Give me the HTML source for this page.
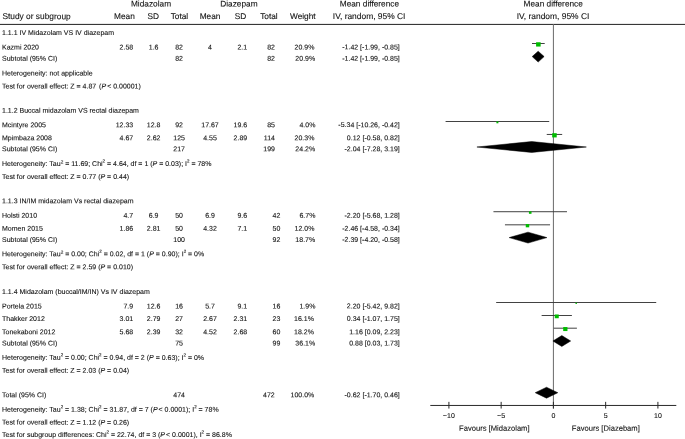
<!DOCTYPE html>
<html><head><meta charset="utf-8"><title>Forest plot</title>
<style>
html,body{margin:0;padding:0;background:#fff;}
body{width:685px;height:439px;overflow:hidden;}
svg{display:block;font-family:"Liberation Sans",sans-serif;fill:#111;}
.t{stroke:#111;stroke-width:0.1px;}
text{white-space:pre;}
</style></head><body>
<svg width="685" height="439" viewBox="0 0 685 439" style="filter:blur(0.35px)">
<rect width="685" height="439" fill="#fff"/>
<g>
<rect x="0" y="23.9" width="685" height="1" fill="#222"/>
<rect x="552.90" y="24" width="1" height="384.5" fill="#6a6a6a"/>
<rect x="430.3" y="404.95" width="246" height="1" fill="#2a2a2a"/>
<rect x="448.40" y="401.84999999999997" width="1" height="6.7" fill="#2a2a2a"/>
<rect x="500.65" y="401.84999999999997" width="1" height="6.7" fill="#2a2a2a"/>
<rect x="552.90" y="401.84999999999997" width="1" height="6.7" fill="#2a2a2a"/>
<rect x="605.15" y="401.84999999999997" width="1" height="6.7" fill="#2a2a2a"/>
<rect x="657.40" y="401.84999999999997" width="1" height="6.7" fill="#2a2a2a"/>
<rect x="532.00" y="43.05" width="12.71" height="0.95" fill="#383838"/>
<rect x="536.08" y="42.25" width="4.57" height="4.30" fill="#00bc00"/>
<polygon points="532.20,56.60 538.16,51.15 544.12,56.60 538.16,62.05" fill="#000" stroke="#000" stroke-width="0.5"/>
<rect x="445.58" y="121.00" width="103.63" height="0.95" fill="#383838"/>
<rect x="496.40" y="121.41" width="2.00" height="1.88" fill="#00bc00"/>
<rect x="546.74" y="133.95" width="15.43" height="0.95" fill="#383838"/>
<rect x="552.20" y="133.18" width="4.51" height="4.24" fill="#00bc00"/>
<polygon points="476.92,147.00 531.68,141.55 586.34,147.00 531.68,152.45" fill="#000" stroke="#000" stroke-width="0.5"/>
<rect x="493.44" y="211.25" width="73.53" height="0.95" fill="#383838"/>
<rect x="528.92" y="211.38" width="2.59" height="2.43" fill="#00bc00"/>
<rect x="504.94" y="224.35" width="45.11" height="0.95" fill="#383838"/>
<rect x="525.76" y="224.07" width="3.46" height="3.26" fill="#00bc00"/>
<polygon points="509.11,237.60 528.02,232.15 546.94,237.60 528.02,243.05" fill="#000" stroke="#000" stroke-width="0.5"/>
<rect x="496.16" y="302.00" width="160.06" height="0.95" fill="#383838"/>
<rect x="575.50" y="302.70" width="1.38" height="1.30" fill="#00bc00"/>
<rect x="541.62" y="315.00" width="30.27" height="0.95" fill="#383838"/>
<rect x="554.75" y="314.46" width="4.01" height="3.77" fill="#00bc00"/>
<rect x="553.74" y="327.70" width="23.16" height="0.95" fill="#383838"/>
<rect x="563.19" y="327.04" width="4.27" height="4.01" fill="#00bc00"/>
<polygon points="552.91,341.00 561.80,335.55 570.68,341.00 561.80,346.45" fill="#000" stroke="#000" stroke-width="0.5"/>
<polygon points="535.24,392.70 546.52,387.25 557.81,392.70 546.52,398.15" fill="#000" stroke="#000" stroke-width="0.5"/>
</g>
<g class="t">
<text transform="matrix(1,0.0005,0,1,151.00,6.40)" font-size="8.3" text-anchor="middle">Midazolam</text>
<text transform="matrix(1,0.0005,0,1,238.90,6.40)" font-size="8.3" text-anchor="middle">Diazepam</text>
<text transform="matrix(1,0.0005,0,1,369.40,6.40)" font-size="8.3" text-anchor="middle">Mean difference</text>
<text transform="matrix(1,0.0005,0,1,553.20,6.40)" font-size="8.3" text-anchor="middle">Mean difference</text>
<text transform="matrix(1,0.0005,0,1,2.40,19.10)" font-size="8.36">Study or subgroup</text>
<text transform="matrix(1,0.0005,0,1,124.40,19.10)" font-size="8.3" text-anchor="middle">Mean</text>
<text transform="matrix(1,0.0005,0,1,153.30,19.10)" font-size="8.3" text-anchor="middle">SD</text>
<text transform="matrix(1,0.0005,0,1,179.40,19.10)" font-size="8.3" text-anchor="middle">Total</text>
<text transform="matrix(1,0.0005,0,1,210.00,19.10)" font-size="8.3" text-anchor="middle">Mean</text>
<text transform="matrix(1,0.0005,0,1,240.50,19.10)" font-size="8.3" text-anchor="middle">SD</text>
<text transform="matrix(1,0.0005,0,1,268.90,19.10)" font-size="8.3" text-anchor="middle">Total</text>
<text transform="matrix(1,0.0005,0,1,302.80,19.10)" font-size="8.3" text-anchor="middle">Weight</text>
<text transform="matrix(1,0.0005,0,1,369.10,19.10)" font-size="8.42" text-anchor="middle">IV, random, 95% CI</text>
<text transform="matrix(1,0.0005,0,1,553.00,19.10)" font-size="8.42" text-anchor="middle">IV, random, 95% CI</text>
<text transform="matrix(1,0.0005,0,1,448.90,418.00)" font-size="7.0" text-anchor="middle">&#8722;10</text>
<text transform="matrix(1,0.0005,0,1,501.15,418.00)" font-size="7.0" text-anchor="middle">&#8722;5</text>
<text transform="matrix(1,0.0005,0,1,553.40,418.00)" font-size="7.0" text-anchor="middle">0</text>
<text transform="matrix(1,0.0005,0,1,605.65,418.00)" font-size="7.0" text-anchor="middle">5</text>
<text transform="matrix(1,0.0005,0,1,657.90,418.00)" font-size="7.0" text-anchor="middle">10</text>
<text transform="matrix(1,0.0005,0,1,494.30,430.70)" font-size="7.6" text-anchor="middle">Favours [Midazolam]</text>
<text transform="matrix(1,0.0005,0,1,605.80,430.70)" font-size="7.6" text-anchor="middle">Favours [Diazebam]</text>
<text transform="matrix(1,0.0005,0,1,2.00,35.00)" font-size="7.0">1.1.1 IV Midazolam VS IV diazepam</text>
<text transform="matrix(1,0.0005,0,1,2.00,49.40)" font-size="7.0">Kazmi 2020</text>
<text transform="matrix(1,0.0005,0,1,133.20,49.40)" font-size="7.0" text-anchor="end">2.58</text>
<text transform="matrix(1,0.0005,0,1,153.60,49.40)" font-size="7.0" text-anchor="middle">1.6</text>
<text transform="matrix(1,0.0005,0,1,179.10,49.40)" font-size="7.0" text-anchor="middle">82</text>
<text transform="matrix(1,0.0005,0,1,210.00,49.40)" font-size="7.0" text-anchor="middle">4</text>
<text transform="matrix(1,0.0005,0,1,247.20,49.40)" font-size="7.0" text-anchor="end">2.1</text>
<text transform="matrix(1,0.0005,0,1,275.00,49.40)" font-size="7.0" text-anchor="end">82</text>
<text transform="matrix(1,0.0005,0,1,314.40,49.40)" font-size="7.0" text-anchor="end">20.9%</text>
<text transform="matrix(1,0.0005,0,1,399.80,49.40)" font-size="7.0" text-anchor="end">-1.42 [-1.99, -0.85]</text>
<text transform="matrix(1,0.0005,0,1,2.00,60.75)" font-size="7.0">Subtotal (95% CI)</text>
<text transform="matrix(1,0.0005,0,1,179.10,60.75)" font-size="7.0" text-anchor="middle">82</text>
<text transform="matrix(1,0.0005,0,1,275.00,60.75)" font-size="7.0" text-anchor="end">82</text>
<text transform="matrix(1,0.0005,0,1,315.20,60.75)" font-size="7.0" text-anchor="end">20.9%</text>
<text transform="matrix(1,0.0005,0,1,399.80,60.75)" font-size="7.0" text-anchor="end">-1.42 [-1.99, -0.85]</text>
<text transform="matrix(1,0.0005,0,1,2.00,75.50)" font-size="7.0">Heterogeneity: not applicable</text>
<text transform="matrix(1,0.0005,0,1,2.00,88.50)" font-size="7.0">Test for overall effect: Z = 4.87<tspan dx="0.9"> </tspan>(<tspan font-style="italic">P</tspan><tspan dx="-0.9"> &lt;</tspan> 0.00001)</text>
<text transform="matrix(1,0.0005,0,1,2.00,112.65)" font-size="7.0">1.1.2 Buccal midazolam VS rectal diazepam</text>
<text transform="matrix(1,0.0005,0,1,2.00,127.15)" font-size="7.0">Mcintyre 2005</text>
<text transform="matrix(1,0.0005,0,1,133.20,127.15)" font-size="7.0" text-anchor="end">12.33</text>
<text transform="matrix(1,0.0005,0,1,153.60,127.15)" font-size="7.0" text-anchor="middle">12.8</text>
<text transform="matrix(1,0.0005,0,1,179.10,127.15)" font-size="7.0" text-anchor="middle">92</text>
<text transform="matrix(1,0.0005,0,1,210.00,127.15)" font-size="7.0" text-anchor="middle">17.67</text>
<text transform="matrix(1,0.0005,0,1,247.20,127.15)" font-size="7.0" text-anchor="end">19.6</text>
<text transform="matrix(1,0.0005,0,1,275.00,127.15)" font-size="7.0" text-anchor="end">85</text>
<text transform="matrix(1,0.0005,0,1,315.40,127.15)" font-size="7.0" text-anchor="end">4.0%</text>
<text transform="matrix(1,0.0005,0,1,399.80,127.15)" font-size="7.0" text-anchor="end">-5.34 [-10.26, -0.42]</text>
<text transform="matrix(1,0.0005,0,1,2.00,140.20)" font-size="7.0">Mpimbaza 2008</text>
<text transform="matrix(1,0.0005,0,1,133.20,140.20)" font-size="7.0" text-anchor="end">4.67</text>
<text transform="matrix(1,0.0005,0,1,153.60,140.20)" font-size="7.0" text-anchor="middle">2.62</text>
<text transform="matrix(1,0.0005,0,1,179.10,140.20)" font-size="7.0" text-anchor="middle">125</text>
<text transform="matrix(1,0.0005,0,1,210.00,140.20)" font-size="7.0" text-anchor="middle">4.55</text>
<text transform="matrix(1,0.0005,0,1,247.20,140.20)" font-size="7.0" text-anchor="end">2.89</text>
<text transform="matrix(1,0.0005,0,1,275.00,140.20)" font-size="7.0" text-anchor="end">114</text>
<text transform="matrix(1,0.0005,0,1,314.40,140.20)" font-size="7.0" text-anchor="end">20.3%</text>
<text transform="matrix(1,0.0005,0,1,399.80,140.20)" font-size="7.0" text-anchor="end">0.12 [-0.58, 0.82]</text>
<text transform="matrix(1,0.0005,0,1,2.00,151.20)" font-size="7.0">Subtotal (95% CI)</text>
<text transform="matrix(1,0.0005,0,1,179.10,151.20)" font-size="7.0" text-anchor="middle">217</text>
<text transform="matrix(1,0.0005,0,1,275.00,151.20)" font-size="7.0" text-anchor="end">199</text>
<text transform="matrix(1,0.0005,0,1,315.20,151.20)" font-size="7.0" text-anchor="end">24.2%</text>
<text transform="matrix(1,0.0005,0,1,399.80,151.20)" font-size="7.0" text-anchor="end">-2.04 [-7.28, 3.19]</text>
<text transform="matrix(1,0.0005,0,1,2.00,165.90)" font-size="7.0">Heterogeneity: Tau<tspan font-size="4.7" dy="-2.4">2</tspan><tspan dy="2.4" font-size="7">&#8203;</tspan> = 11.69; Chi<tspan font-size="4.4" dy="-3.5">2</tspan><tspan dy="3.5" font-size="7">&#8203;</tspan> = 4.64, df = 1 (<tspan font-style="italic">P</tspan> = 0.03); I<tspan font-size="4.4" dy="-3.5">2</tspan><tspan dy="3.5" font-size="7">&#8203;</tspan> = 78%</text>
<text transform="matrix(1,0.0005,0,1,2.00,178.90)" font-size="7.0">Test for overall effect: Z = 0.77 (<tspan font-style="italic">P</tspan> = 0.44)</text>
<text transform="matrix(1,0.0005,0,1,2.00,203.20)" font-size="7.0">1.1.3 IN/IM midazolam Vs rectal diazepam</text>
<text transform="matrix(1,0.0005,0,1,2.00,217.80)" font-size="7.0">Holsti 2010</text>
<text transform="matrix(1,0.0005,0,1,133.20,217.80)" font-size="7.0" text-anchor="end">4.7</text>
<text transform="matrix(1,0.0005,0,1,153.60,217.80)" font-size="7.0" text-anchor="middle">6.9</text>
<text transform="matrix(1,0.0005,0,1,179.10,217.80)" font-size="7.0" text-anchor="middle">50</text>
<text transform="matrix(1,0.0005,0,1,210.00,217.80)" font-size="7.0" text-anchor="middle">6.9</text>
<text transform="matrix(1,0.0005,0,1,247.20,217.80)" font-size="7.0" text-anchor="end">9.6</text>
<text transform="matrix(1,0.0005,0,1,280.40,217.80)" font-size="7.0" text-anchor="end">42</text>
<text transform="matrix(1,0.0005,0,1,315.40,217.80)" font-size="7.0" text-anchor="end">6.7%</text>
<text transform="matrix(1,0.0005,0,1,399.80,217.80)" font-size="7.0" text-anchor="end">-2.20 [-5.68, 1.28]</text>
<text transform="matrix(1,0.0005,0,1,2.00,230.70)" font-size="7.0">Momen 2015</text>
<text transform="matrix(1,0.0005,0,1,133.20,230.70)" font-size="7.0" text-anchor="end">1.86</text>
<text transform="matrix(1,0.0005,0,1,153.60,230.70)" font-size="7.0" text-anchor="middle">2.81</text>
<text transform="matrix(1,0.0005,0,1,179.10,230.70)" font-size="7.0" text-anchor="middle">50</text>
<text transform="matrix(1,0.0005,0,1,210.00,230.70)" font-size="7.0" text-anchor="middle">4.32</text>
<text transform="matrix(1,0.0005,0,1,247.20,230.70)" font-size="7.0" text-anchor="end">7.1</text>
<text transform="matrix(1,0.0005,0,1,280.40,230.70)" font-size="7.0" text-anchor="end">50</text>
<text transform="matrix(1,0.0005,0,1,314.40,230.70)" font-size="7.0" text-anchor="end">12.0%</text>
<text transform="matrix(1,0.0005,0,1,399.80,230.70)" font-size="7.0" text-anchor="end">-2.46 [-4.58, -0.34]</text>
<text transform="matrix(1,0.0005,0,1,2.00,241.90)" font-size="7.0">Subtotal (95% CI)</text>
<text transform="matrix(1,0.0005,0,1,179.10,241.90)" font-size="7.0" text-anchor="middle">100</text>
<text transform="matrix(1,0.0005,0,1,280.40,241.90)" font-size="7.0" text-anchor="end">92</text>
<text transform="matrix(1,0.0005,0,1,315.20,241.90)" font-size="7.0" text-anchor="end">18.7%</text>
<text transform="matrix(1,0.0005,0,1,399.80,241.90)" font-size="7.0" text-anchor="end">-2.39 [-4.20, -0.58]</text>
<text transform="matrix(1,0.0005,0,1,2.00,256.15)" font-size="7.0">Heterogeneity: Tau<tspan font-size="4.7" dy="-2.4">2</tspan><tspan dy="2.4" font-size="7">&#8203;</tspan> = 0.00; Chi<tspan font-size="4.4" dy="-3.5">2</tspan><tspan dy="3.5" font-size="7">&#8203;</tspan> = 0.02, df = 1 (<tspan font-style="italic">P</tspan> = 0.90); I<tspan font-size="4.4" dy="-3.5">2</tspan><tspan dy="3.5" font-size="7">&#8203;</tspan> = 0%</text>
<text transform="matrix(1,0.0005,0,1,2.00,269.15)" font-size="7.0">Test for overall effect: Z = 2.59 (<tspan font-style="italic">P</tspan> = 0.010)</text>
<text transform="matrix(1,0.0005,0,1,2.00,293.90)" font-size="7.0">1.1.4 Midazolam (buccal/IM/IN) Vs IV diazepam</text>
<text transform="matrix(1,0.0005,0,1,2.00,308.40)" font-size="7.0">Portela 2015</text>
<text transform="matrix(1,0.0005,0,1,133.20,308.40)" font-size="7.0" text-anchor="end">7.9</text>
<text transform="matrix(1,0.0005,0,1,153.60,308.40)" font-size="7.0" text-anchor="middle">12.6</text>
<text transform="matrix(1,0.0005,0,1,179.10,308.40)" font-size="7.0" text-anchor="middle">16</text>
<text transform="matrix(1,0.0005,0,1,210.00,308.40)" font-size="7.0" text-anchor="middle">5.7</text>
<text transform="matrix(1,0.0005,0,1,247.20,308.40)" font-size="7.0" text-anchor="end">9.1</text>
<text transform="matrix(1,0.0005,0,1,280.40,308.40)" font-size="7.0" text-anchor="end">16</text>
<text transform="matrix(1,0.0005,0,1,315.40,308.40)" font-size="7.0" text-anchor="end">1.9%</text>
<text transform="matrix(1,0.0005,0,1,399.80,308.40)" font-size="7.0" text-anchor="end">2.20 [-5.42, 9.82]</text>
<text transform="matrix(1,0.0005,0,1,2.00,320.90)" font-size="7.0">Thakker 2012</text>
<text transform="matrix(1,0.0005,0,1,133.20,320.90)" font-size="7.0" text-anchor="end">3.01</text>
<text transform="matrix(1,0.0005,0,1,153.60,320.90)" font-size="7.0" text-anchor="middle">2.79</text>
<text transform="matrix(1,0.0005,0,1,179.10,320.90)" font-size="7.0" text-anchor="middle">27</text>
<text transform="matrix(1,0.0005,0,1,210.00,320.90)" font-size="7.0" text-anchor="middle">2.67</text>
<text transform="matrix(1,0.0005,0,1,247.20,320.90)" font-size="7.0" text-anchor="end">2.31</text>
<text transform="matrix(1,0.0005,0,1,280.40,320.90)" font-size="7.0" text-anchor="end">23</text>
<text transform="matrix(1,0.0005,0,1,313.90,320.90)" font-size="7.0" text-anchor="end">16.1%</text>
<text transform="matrix(1,0.0005,0,1,399.80,320.90)" font-size="7.0" text-anchor="end">0.34 [-1.07, 1.75]</text>
<text transform="matrix(1,0.0005,0,1,2.00,334.20)" font-size="7.0">Tonekaboni 2012</text>
<text transform="matrix(1,0.0005,0,1,133.20,334.20)" font-size="7.0" text-anchor="end">5.68</text>
<text transform="matrix(1,0.0005,0,1,153.60,334.20)" font-size="7.0" text-anchor="middle">2.39</text>
<text transform="matrix(1,0.0005,0,1,179.10,334.20)" font-size="7.0" text-anchor="middle">32</text>
<text transform="matrix(1,0.0005,0,1,210.00,334.20)" font-size="7.0" text-anchor="middle">4.52</text>
<text transform="matrix(1,0.0005,0,1,247.20,334.20)" font-size="7.0" text-anchor="end">2.68</text>
<text transform="matrix(1,0.0005,0,1,280.40,334.20)" font-size="7.0" text-anchor="end">60</text>
<text transform="matrix(1,0.0005,0,1,313.90,334.20)" font-size="7.0" text-anchor="end">18.2%</text>
<text transform="matrix(1,0.0005,0,1,399.80,334.20)" font-size="7.0" text-anchor="end">1.16 [0.09, 2.23]</text>
<text transform="matrix(1,0.0005,0,1,2.00,345.45)" font-size="7.0">Subtotal (95% CI)</text>
<text transform="matrix(1,0.0005,0,1,179.10,345.45)" font-size="7.0" text-anchor="middle">75</text>
<text transform="matrix(1,0.0005,0,1,280.40,345.45)" font-size="7.0" text-anchor="end">99</text>
<text transform="matrix(1,0.0005,0,1,315.20,345.45)" font-size="7.0" text-anchor="end">36.1%</text>
<text transform="matrix(1,0.0005,0,1,399.80,345.45)" font-size="7.0" text-anchor="end">0.88 [0.03, 1.73]</text>
<text transform="matrix(1,0.0005,0,1,2.00,359.80)" font-size="7.0">Heterogeneity: Tau<tspan font-size="4.4" dy="-3.5">2</tspan><tspan dy="3.5" font-size="7">&#8203;</tspan> = 0.00; Chi<tspan font-size="4.4" dy="-3.5">2</tspan><tspan dy="3.5" font-size="7">&#8203;</tspan> = 0.94, df = 2 (<tspan font-style="italic">P</tspan> = 0.63); I<tspan font-size="4.4" dy="-3.5">2</tspan><tspan dy="3.5" font-size="7">&#8203;</tspan> = 0%</text>
<text transform="matrix(1,0.0005,0,1,2.00,372.75)" font-size="7.0">Test for overall effect: Z = 2.03 (<tspan font-style="italic">P</tspan> = 0.04)</text>
<text transform="matrix(1,0.0005,0,1,2.00,397.20)" font-size="7.0">Total (95% CI)</text>
<text transform="matrix(1,0.0005,0,1,179.10,397.20)" font-size="7.0" text-anchor="middle">474</text>
<text transform="matrix(1,0.0005,0,1,274.70,397.20)" font-size="7.0" text-anchor="end">472</text>
<text transform="matrix(1,0.0005,0,1,314.30,397.20)" font-size="7.0" text-anchor="end">100.0%</text>
<text transform="matrix(1,0.0005,0,1,399.80,397.20)" font-size="7.0" text-anchor="end">-0.62 [-1.70, 0.46]</text>
<text transform="matrix(1,0.0005,0,1,2.00,411.70)" font-size="7.0">Heterogeneity: Tau<tspan font-size="4.4" dy="-3.5">2</tspan><tspan dy="3.5" font-size="7">&#8203;</tspan> = 1.38; Chi<tspan font-size="4.4" dy="-3.5">2</tspan><tspan dy="3.5" font-size="7">&#8203;</tspan> = 31.87, df = 7 (<tspan font-style="italic">P</tspan><tspan dx="-1.0"> &lt;</tspan> 0.0001); I<tspan font-size="4.4" dy="-3.5">2</tspan><tspan dy="3.5" font-size="7">&#8203;</tspan> = 78%</text>
<text transform="matrix(1,0.0005,0,1,2.00,424.60)" font-size="7.0">Test for overall effect: Z = 1.12 (<tspan font-style="italic">P</tspan> = 0.26)</text>
<text transform="matrix(1,0.0005,0,1,2.00,436.90)" font-size="7.0">Test for subgroup differences: Chi<tspan font-size="4.4" dy="-3.5">2</tspan><tspan dy="3.5" font-size="7">&#8203;</tspan> = 22.74, df = 3 (<tspan font-style="italic">P</tspan><tspan dx="-1.0"> &lt;</tspan> 0.0001), I<tspan font-size="4.4" dy="-3.5">2</tspan><tspan dy="3.5" font-size="7">&#8203;</tspan> = 86.8%</text>
</g>
</svg>
</body></html>
